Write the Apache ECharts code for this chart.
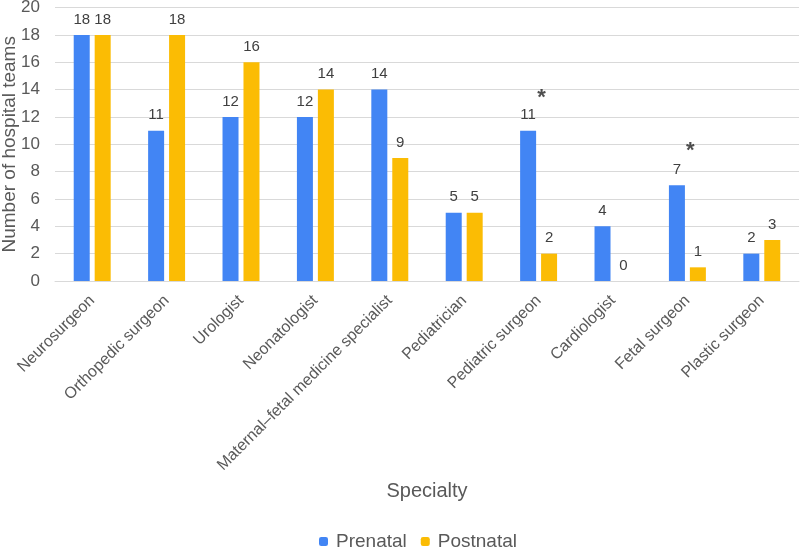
<!DOCTYPE html>
<html>
<head>
<meta charset="utf-8">
<script src="https://cdn.jsdelivr.net/npm/echarts@6/dist/echarts.min.js"></script>
<style>html,body{margin:0;padding:0;background:#fff}#c{width:800px;height:551px}</style>
</head>
<body>
<div id="c"></div>
<script>
var categories = ["Neurosurgeon","Orthopedic surgeon","Urologist","Neonatologist","Maternal\u2013fetal medicine specialist","Pediatrician","Pediatric surgeon","Cardiologist","Fetal surgeon","Plastic surgeon"];
var prenatal = [18, 11, 12, 12, 14, 5, 11, 4, 7, 2];
var postnatal = [18, 18, 16, 14, 9, 5, 2, 0, 1, 3];
var asterisks = [["Pediatric surgeon", 13.4], ["Fetal surgeon", 9.5]];
var yTicks = { min: 0, max: 20, interval: 2 };

var chart = echarts.init(document.getElementById('c'));
var txt = '#595959';
var font = 'Arial, "Liberation Sans", sans-serif';
chart.setOption({
  animation: false,
  textStyle: { fontFamily: font },
  grid: { left: 55, right: 1, top: 7.6, bottom: 270, containLabel: false, outerBoundsMode: 'none' },
  legend: {
    top: 527, left: 314,
    itemWidth: 9, itemHeight: 9, itemGap: 14,
    textStyle: { color: txt, fontSize: 19, fontFamily: font, padding: [0, 0, 0, 3] },
    data: ['Prenatal', 'Postnatal']
  },
  xAxis: {
    type: 'category', data: categories,
    name: 'Specialty', nameLocation: 'middle', nameGap: 200, nameMoveOverlap: false,
    nameTextStyle: { color: txt, fontSize: 20, fontFamily: font },
    axisLine: { lineStyle: { color: '#d9d9d9' } },
    axisTick: { show: false },
    axisLabel: { rotate: 45, interval: 0, color: txt, fontSize: 16, margin: 17, fontFamily: font }
  },
  yAxis: {
    type: 'value', min: yTicks.min, max: yTicks.max, interval: yTicks.interval,
    name: 'Number of hospital teams', nameLocation: 'middle', nameGap: 36, nameMoveOverlap: false,
    nameTextStyle: { color: txt, fontSize: 19, fontFamily: font },
    axisLine: { show: false }, axisTick: { show: false },
    axisLabel: { color: txt, fontSize: 17, margin: 15, fontFamily: font },
    splitLine: { lineStyle: { color: '#d9d9d9', width: 1 } }
  },
  series: [
    { name: 'Prenatal', type: 'bar', data: prenatal, barWidth: 16, barGap: '31%',
      itemStyle: { color: '#4285F4' },
      label: { show: true, position: 'top', distance: 8, color: '#404040', fontSize: 15, fontFamily: font } },
    { name: 'Postnatal', type: 'bar', data: postnatal, barWidth: 16,
      itemStyle: { color: '#FBBC04' },
      label: { show: true, position: 'top', distance: 8, color: '#404040', fontSize: 15, fontFamily: font } },
    { name: 'sig', type: 'scatter', data: asterisks, symbolSize: 1, itemStyle: { color: 'rgba(0,0,0,0)' },
      label: { show: true, position: 'inside', formatter: '*', color: '#222', fontSize: 22, fontWeight: 'bold', fontFamily: font, offset: [3, 0] },
      silent: true, z: 5 }
  ]
});
</script>
</body>
</html>
